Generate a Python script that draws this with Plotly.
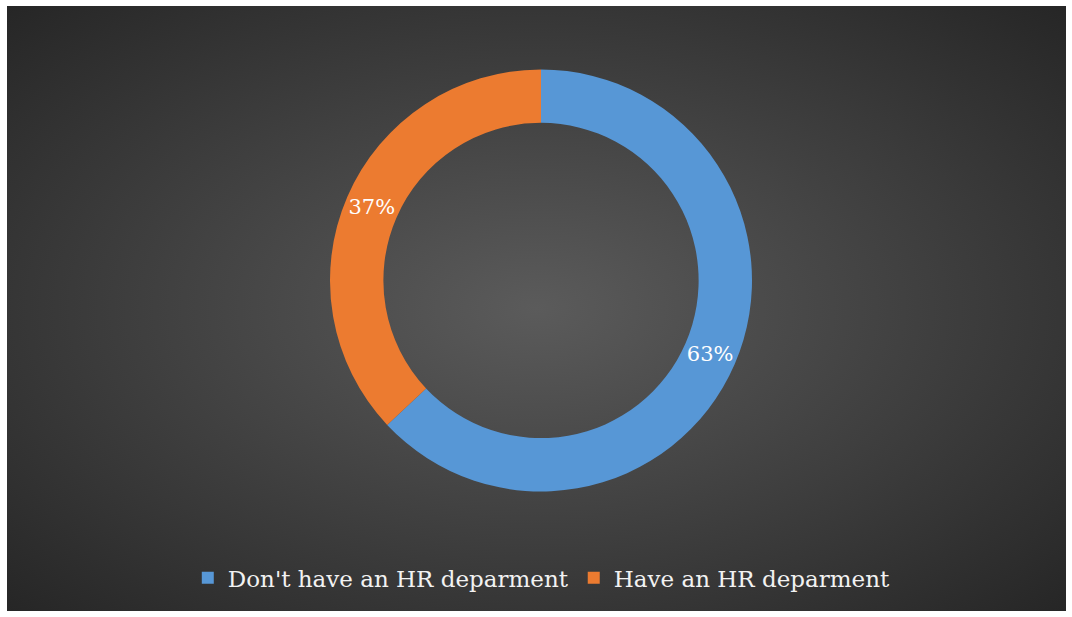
import urllib.parse
import plotly.graph_objects as go

# Survey split: companies with / without an HR department
labels = ["Don't have an HR deparment", "Have an HR deparment"]
shares = [63, 37]
slice_colors = ["#5797d6", "#ec7b30"]

W, H = 1072, 617

# Dark radial backdrop drawn as an SVG gradient image
backdrop_svg = (
    "<svg xmlns='http://www.w3.org/2000/svg' width='1059' height='605' viewBox='0 0 1059 605' preserveAspectRatio='none'>"
    "<defs><radialGradient id='g' cx='0.5' cy='0.5' r='0.72'>"
    "<stop offset='0' stop-color='#5b5b5b'/>"
    "<stop offset='1' stop-color='#252525'/>"
    "</radialGradient></defs>"
    "<rect width='1059' height='605' fill='url(#g)'/></svg>"
)
backdrop_uri = "data:image/svg+xml;charset=utf-8," + urllib.parse.quote(backdrop_svg)

fig = go.Figure()
fig.add_trace(go.Pie(
    labels=labels,
    values=shares,
    sort=False,
    direction="clockwise",
    rotation=0,
    hole=0.747,
    marker=dict(colors=slice_colors, line=dict(width=0)),
    texttemplate="%{percent:.0%}",
    textposition="inside",
    insidetextorientation="horizontal",
    textfont=dict(family="DejaVu Serif", size=21, color="white"),
    domain=dict(x=[0.3050, 0.7035], y=[0.1975, 0.8951]),
    showlegend=True,
))

fig.update_layout(
    width=W, height=H,
    margin=dict(l=7, r=6, t=6, b=6),
    paper_bgcolor="white",
    plot_bgcolor="rgba(0,0,0,0)",
    images=[dict(
        source=backdrop_uri, xref="paper", yref="paper",
        x=0, y=1, sizex=1, sizey=1, xanchor="left", yanchor="top",
        sizing="stretch", layer="below",
    )],
    legend=dict(
        orientation="h", x=0.505, y=0.055, xanchor="center", yanchor="middle",
        font=dict(family="DejaVu Serif", size=23, color="#f2f2f2"),
        bgcolor="rgba(0,0,0,0)", itemwidth=30,
    ),
    uniformtext=dict(minsize=8, mode="show"),
)

fig.write_html("out.html")
